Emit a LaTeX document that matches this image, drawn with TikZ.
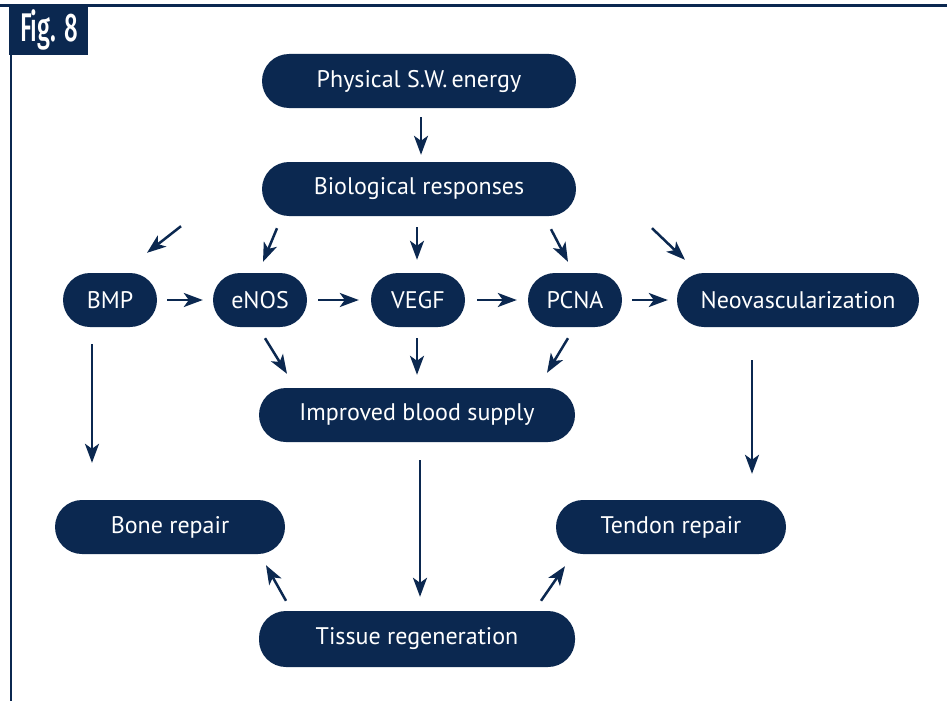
\documentclass[tikz,border=0pt]{standalone}
\usepackage{fontspec}
\setmainfont{PT Sans}
\newfontfamily\figfont{Fira Sans Medium}
\usetikzlibrary{arrows.meta,calc}
\definecolor{navy}{HTML}{0B2850}
\begin{document}
\begin{tikzpicture}[x=1pt,y=-1pt,
 box/.style={fill=navy, text=white, rounded corners=27pt, minimum height=54pt, inner sep=0pt, font=\fontsize{24}{28}\selectfont},
 arr/.style={draw=navy, line width=2.5pt, -{Stealth[length=19pt,width=14pt,inset=5pt]}}]
\useasboundingbox (0,0) rectangle (947,701);
\fill[white] (0,0) rectangle (947,701);
% frame
\draw[navy, line width=3pt] (0,6) -- (947,6);
\draw[navy, line width=2.5pt] (11,6) -- (11,701);
\fill[navy] (9,4.5) rectangle (88,55);
\node[text=white, inner sep=0pt] (fig) at (49,30) {\figfont\fontsize{40}{40}\selectfont\scalebox{0.6}[1]{Fig. 8}};
% nodes
\node[box, minimum width=314pt] (phys) at (419,81) {Physical S.W.\,energy};
\node[box, minimum width=314pt] (bio) at (419,189) {Biological responses};
\node[box, minimum width=94pt] (bmp) at (110,300) {BMP};
\node[box, minimum width=94pt] (enos) at (260,300) {eNOS};
\node[box, minimum width=94pt] (vegf) at (418,300) {VEGF};
\node[box, minimum width=94pt] (pcna) at (575,300) {PCNA};
\node[box, minimum width=242pt] (neo) at (798,300) {Neovascularization};
\node[box, minimum width=316pt] (imp) at (417,415) {Improved blood supply};
\node[box, minimum width=230pt] (bone) at (170,527) {Bone repair};
\node[box, minimum width=230pt] (tendon) at (671,527) {Tendon repair};
\node[box, minimum width=316pt, minimum height=56pt] (tissue) at (417,639) {Tissue regeneration};
% arrows
\draw[arr] ($(phys.south)+(2,9)$) -- ($(bio.north)+(2,-7)$);
\draw[arr] ($(bio.south)+(-238,10)$) -- ($(bmp.north)+(37,-20)$);
\draw[arr] ($(bio.south)+(-142,12)$) -- ($(enos.north)+(3,-11)$);
\draw[arr] ($(bio.south)+(-2,11)$) -- ($(vegf.north)+(-1,-13)$);
\draw[arr] ($(bio.south)+(132,13)$) -- ($(pcna.north)+(-7,-11)$);
\draw[arr] ($(bio.south)+(233,12)$) -- ($(neo.north)+(-113,-13)$);
\draw[arr] ($(bmp.east)+(10,0)$) -- ($(enos.west)+(-10,0)$);
\draw[arr] ($(enos.east)+(11,0)$) -- ($(vegf.west)+(-12,0)$);
\draw[arr] ($(vegf.east)+(12,0)$) -- ($(pcna.west)+(-11,0)$);
\draw[arr] ($(pcna.east)+(10,0)$) -- ($(neo.west)+(-9,0)$);
\draw[arr] ($(enos.south)+(5,11)$) -- ($(imp.north)+(-130,-14)$);
\draw[arr] ($(vegf.south)+(-1,11)$) -- ($(imp.north)+(0,-13)$);
\draw[arr] ($(pcna.south)+(-7,11)$) -- ($(imp.north)+(130,-15)$);
\draw[arr] ($(bmp.south)+(-18,17)$) -- ($(bone.north)+(-78,-37)$);
\draw[arr] ($(neo.south)+(-46,33)$) -- ($(tendon.north)+(81,-26)$);
\draw[arr] ($(imp.south)+(3,18)$) -- ($(tissue.north)+(3,-14)$);
\draw[arr] ($(tissue.north)+(-131,-10)$) -- ($(bone.south)+(96,11)$);
\draw[arr] ($(tissue.north)+(124,-10)$) -- ($(tendon.south)+(-106,12)$);
\end{tikzpicture}
\end{document}
